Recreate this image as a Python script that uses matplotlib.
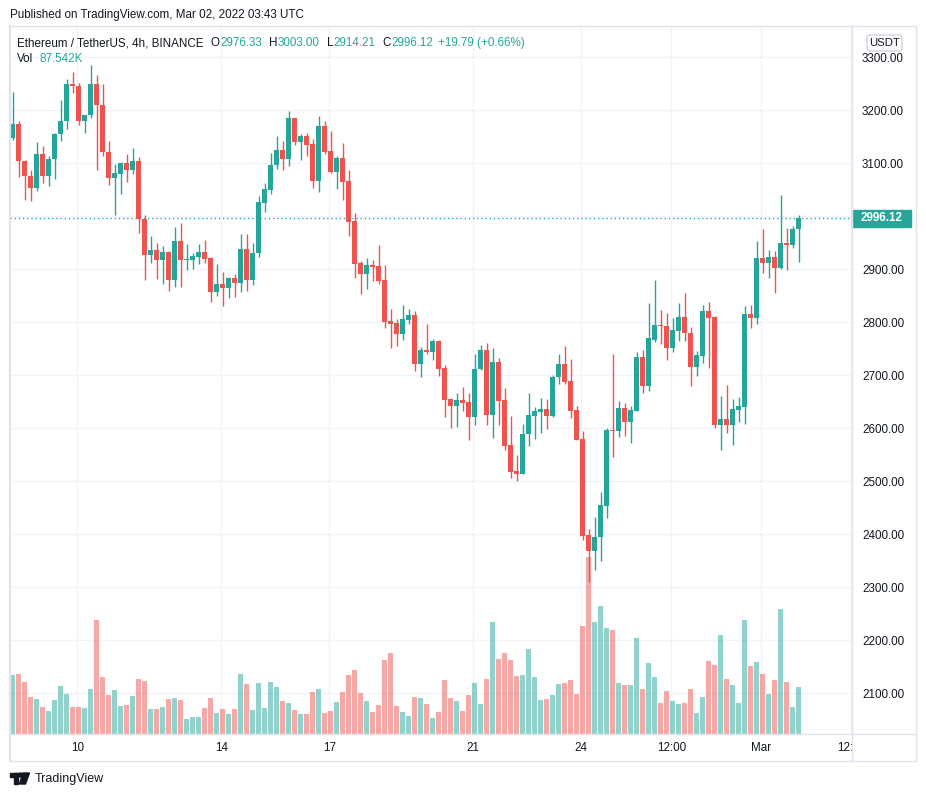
import numpy as np
import matplotlib.pyplot as plt
from matplotlib.patches import Rectangle, Circle, Polygon, FancyBboxPatch
from matplotlib.lines import Line2D
from matplotlib.transforms import Affine2D, blended_transform_factory

plt.rcParams['font.family'] = ['Liberation Sans', 'DejaVu Sans']

W, H = 926, 797
UP = '#26a69a'
DOWN = '#ef5350'
GRID = '#f0f3fa'
BORDER = '#e0e3eb'
TEXT = '#131722'

# 4h candles, ETH/USDT, Feb 08 04:00 -> Mar 02 00:00
opens = [3147, 3175, 3104, 3077, 3053, 3118, 3077, 3108, 3155, 3180,
         3250, 3245, 3180, 3191, 3250, 3210, 3122, 3073, 3080, 3101,
         3087, 3104, 2995, 2927, 2936, 2918, 2933, 2880, 2953, 2918,
         2918, 2924, 2933, 2921, 2857, 2872, 2865, 2884, 2875, 2938,
         2880, 2930, 3026, 3050, 3097, 3125, 3108, 3185, 3141, 3152,
         3136, 3067, 3170, 3123, 3084, 3110, 3067, 2991, 2911, 2891,
         2908, 2906, 2880, 2802, 2798, 2778, 2805, 2814, 2722, 2748,
         2744, 2765, 2713, 2655, 2643, 2653, 2649, 2622, 2711, 2748,
         2626, 2725, 2653, 2568, 2519, 2514, 2589, 2624, 2631, 2636,
         2624, 2696, 2721, 2689, 2634, 2580, 2399, 2369, 2394, 2453,
         2597, 2595, 2639, 2612, 2633, 2735, 2679, 2767, 2795, 2793,
         2752, 2784, 2810, 2779, 2716, 2737, 2821, 2810, 2606, 2618,
         2606, 2635, 2640, 2816, 2808, 2921, 2912, 2923, 2902, 2950,
         2946, 2976.33]
highs = [3235, 3180, 3107, 3087, 3140, 3133, 3114, 3158, 3219, 3259,
         3273, 3251, 3191, 3285, 3267, 3250, 3142, 3099, 3103, 3118,
         3128, 3112, 3002, 2962, 2949, 2944, 2934, 2980, 2987, 2948,
         2930, 2948, 2955, 2923, 2910, 2895, 2885, 2891, 2967, 2967,
         2949, 3039, 3062, 3120, 3152, 3142, 3199, 3186, 3155, 3157,
         3146, 3189, 3180, 3161, 3114, 3139, 3087, 3006, 2916, 2921,
         2918, 2946, 2908, 2826, 2807, 2833, 2826, 2821, 2753, 2797,
         2768, 2766, 2719, 2657, 2667, 2677, 2667, 2740, 2757, 2761,
         2752, 2733, 2676, 2624, 2550, 2609, 2667, 2641, 2657, 2656,
         2701, 2740, 2755, 2731, 2642, 2595, 2410, 2432, 2479, 2601,
         2740, 2652, 2648, 2643, 2744, 2748, 2837, 2880, 2823, 2817,
         2809, 2836, 2855, 2791, 2746, 2833, 2838, 2812, 2661, 2682,
         2655, 2659, 2831, 2833, 2953, 2976, 2936, 2935, 3040, 2978,
         2982, 3003.00]
lows = [3144, 3075, 3031, 3028, 3048, 3062, 3058, 3070, 3143, 3165,
        3233, 3172, 3158, 3186, 3087, 3114, 3059, 3002, 3043, 3065,
        3080, 2969, 2880, 2912, 2882, 2872, 2860, 2867, 2867, 2899,
        2901, 2910, 2911, 2838, 2850, 2831, 2846, 2848, 2857, 2860,
        2870, 2924, 3008, 3042, 3090, 3087, 3094, 3135, 3106, 3114,
        3053, 3046, 3118, 3082, 3051, 3031, 2963, 2884, 2853, 2863,
        2878, 2872, 2789, 2752, 2755, 2767, 2796, 2709, 2696, 2740,
        2729, 2699, 2621, 2601, 2603, 2633, 2577, 2606, 2710, 2607,
        2582, 2607, 2560, 2507, 2501, 2514, 2567, 2580, 2592, 2599,
        2622, 2684, 2684, 2620, 2577, 2389, 2310, 2333, 2350, 2431,
        2546, 2584, 2585, 2573, 2633, 2667, 2671, 2763, 2759, 2729,
        2744, 2765, 2765, 2680, 2699, 2724, 2714, 2601, 2560, 2592,
        2569, 2612, 2608, 2789, 2797, 2893, 2884, 2855, 2901, 2899,
        2940, 2914.21]
closes = [3175, 3104, 3077, 3053, 3118, 3077, 3108, 3155, 3180, 3250,
          3245, 3180, 3191, 3250, 3210, 3122, 3073, 3082, 3101, 3087,
          3104, 2995, 2927, 2936, 2918, 2933, 2880, 2953, 2918, 2919,
          2926, 2933, 2920, 2857, 2872, 2865, 2884, 2875, 2938, 2880,
          2930, 3027, 3051, 3097, 3125, 3108, 3185, 3141, 3152, 3135,
          3067, 3170, 3121, 3084, 3110, 3065, 2990, 2910, 2891, 2908,
          2904, 2878, 2801, 2797, 2778, 2806, 2814, 2722, 2748, 2744,
          2765, 2712, 2654, 2643, 2653, 2648, 2622, 2712, 2748, 2626,
          2725, 2652, 2567, 2518, 2514, 2589, 2625, 2633, 2636, 2624,
          2697, 2721, 2688, 2633, 2578, 2397, 2369, 2395, 2455, 2597,
          2595, 2639, 2612, 2634, 2735, 2679, 2770, 2795, 2793, 2752,
          2786, 2810, 2779, 2716, 2738, 2821, 2809, 2606, 2618, 2606,
          2636, 2642, 2816, 2808, 2921, 2912, 2923, 2902, 2950, 2946,
          2976.33, 2996.12]
# volume in thousands of ETH
volumes = [109.9, 111.8, 96.9, 68.9, 65.2, 50.3, 42.8, 63.3, 89.4, 74.5,
           50.3, 50.3, 48.4, 83.8, 212.3, 106.2, 72.6, 82.0, 52.2, 54.0,
           70.8, 102.4, 98.7, 46.6, 46.6, 50.3, 65.2, 67.1, 63.3, 27.9,
           31.7, 31.7, 48.4, 67.1, 39.1, 46.6, 37.3, 46.6, 111.8, 93.1,
           44.7, 95.0, 48.4, 96.9, 87.5, 61.5, 57.7, 44.7, 37.3, 37.3,
           78.2, 83.8, 39.1, 42.8, 59.6, 78.2, 109.9, 119.2, 76.4, 61.5,
           41.0, 54.0, 137.8, 150.9, 52.2, 41.0, 33.5, 68.9, 67.1, 55.9,
           29.8, 41.0, 100.6, 67.1, 61.5, 42.8, 72.6, 95.0, 55.9, 102.4,
           208.6, 139.7, 150.9, 137.8, 108.0, 109.9, 158.3, 106.2, 63.3, 65.2,
           72.6, 93.1, 95.0, 100.6, 74.5, 201.2, 329.7, 208.6, 238.4, 197.4,
           193.7, 95.0, 91.3, 91.3, 178.8, 83.8, 132.3, 106.2, 57.7, 80.1,
           61.5, 55.9, 57.7, 83.8, 39.1, 68.9, 136.0, 128.5, 184.4, 102.4,
           91.3, 57.7, 212.3, 126.7, 134.1, 111.8, 74.5, 100.6, 232.8, 96.9,
           50.3, 87.542]

time_ticks = [10.75, 34.75, 52.75, 76.75, 94.75, 109.75, 124.75, 139.75]
time_labels = ['10', '14', '17', '21', '24', '12:00', 'Mar', '12:00']
price_ticks = list(range(2100, 3301, 100))

o = np.array(opens)
h = np.array(highs)
l = np.array(lows)
c = np.array(closes)
v = np.array(volumes)
x = np.arange(len(o))
up = c >= o
cols = np.where(up, UP, DOWN)

fig = plt.figure(figsize=(W / 100, H / 100), dpi=100)
pix = Affine2D().scale(1 / W, -1 / H).translate(0, 1) + fig.transFigure

ax = fig.add_axes([10 / W, 1 - 734 / H, (851.7 - 10) / W, (734 - 26) / H])
axv = ax.twinx()
ax.yaxis.tick_right()

# candles
ax.vlines(x, l, h, colors=cols, lw=1, zorder=3)
body = np.maximum(np.abs(c - o), 1.5)
ax.bar(x, body, bottom=np.minimum(o, c), width=0.8, color=cols, zorder=4)

# volume overlay
axv.bar(x, v, width=0.8, color=cols, alpha=0.5, lw=0)
axv.set_ylim(0, 1319)
axv.set_yticks([])
for s in axv.spines.values():
    s.set_visible(False)
axv.patch.set_visible(False)

ax.set_xlim(-0.47, 139.8)
ax.set_ylim(2023.2, 3359.1)
ax.set_xticks(time_ticks)
ax.set_xticklabels(time_labels)
ax.set_yticks(price_ticks)
ax.set_yticklabels(['' if p == 3000 else f'{p:.2f}' for p in price_ticks])
ax.tick_params(axis='both', length=0, labelsize=8.4, colors=TEXT)
ax.tick_params(axis='x', pad=6)
ax.tick_params(axis='y', pad=7.4)
ax.grid(color=GRID, lw=1)
ax.set_axisbelow(True)
for s in ax.spines.values():
    s.set_visible(False)

# clip the last time label at the price scale
lab = ax.xaxis.get_major_ticks()[-1].label1
lab.set_clip_on(True)
lab.set_clip_path(Rectangle((10, 734), 841.7, 30, transform=pix))

# last price line and label
ax.axhline(c[-1], color=UP, lw=1, ls=(0, (1, 2)), zorder=2)
ax.add_patch(Rectangle((852, c[-1] - 15.7), 59, 31.4, transform=blended_transform_factory(
    Affine2D().scale(1 / W, 1) + fig.transFigure, ax.transData), color=UP, clip_on=False, zorder=5))
ax.text(881.5 / W, c[-1], f'{c[-1]:.2f}', transform=blended_transform_factory(fig.transFigure, ax.transData),
        ha='center', va='center', color='white', fontsize=8.4, fontweight='bold', zorder=6)

# pane borders
for xs, ys, lw in [([10, 916], [26, 26], 1), ([10, 916], [761, 761], 1),
                   ([10, 10], [26, 761], 1.6), ([916, 916], [26, 761], 1),
                   ([851.7, 851.7], [26, 761], 1), ([10, 916], [734, 734], 1)]:
    fig.add_artist(Line2D(xs, ys, color=BORDER, lw=lw, transform=pix))

# header texts, laid out one after another
fig.text(10, 15, 'Published on TradingView.com, Mar 02, 2022 03:43 UTC', transform=pix,
         fontsize=8.4, color=TEXT, va='center')
renderer = fig.canvas.get_renderer()
parts = [('Ethereum / TetherUS, 4h, BINANCE', TEXT, 7),
         ('O', TEXT, 0.5), (f'{o[-1]:.2f}', UP, 7),
         ('H', TEXT, 0.5), (f'{h[-1]:.2f}', UP, 7),
         ('L', TEXT, 0.5), (f'{l[-1]:.2f}', UP, 7),
         ('C', TEXT, 0.5), (f'{c[-1]:.2f}', UP, 5),
         (f'+{c[-1] - o[-1]:.2f} (+{(c[-1] - o[-1]) / o[-1] * 100:.2f}%)', UP, 0)]
xpos = 17
for s, col, gap in parts:
    t = fig.text(xpos, 43, s, transform=pix, fontsize=8.4, color=col, va='center')
    xpos += t.get_window_extent(renderer=renderer).width + gap
fig.text(17, 59, 'Vol', transform=pix, fontsize=8.4, color=TEXT, va='center')
fig.text(39.3, 59, f'{v[-1]:.3f}K', transform=pix, fontsize=8.4, color=UP, va='center')

# currency badge
fig.add_artist(FancyBboxPatch((867, 35), 35, 16, boxstyle='round,pad=0,rounding_size=3',
                              fc='white', ec='#d1d4dc', lw=1, transform=pix))
fig.text(884.5, 43, 'USDT', transform=pix, fontsize=8.2, color=TEXT, ha='center', va='center')

# TradingView logo
fig.add_artist(Rectangle((10, 773), 8, 4, color=TEXT, transform=pix))
fig.add_artist(Rectangle((14, 773), 4, 11, color=TEXT, transform=pix))
fig.add_artist(Circle((20.5, 775), 2, color=TEXT, transform=pix))
fig.add_artist(Polygon([(23, 773), (29.5, 773), (25.5, 784), (19.5, 784)], color=TEXT, transform=pix))
fig.text(35, 779, 'TradingView', transform=pix, fontsize=9, color=TEXT, va='center')

fig.savefig('out.png', dpi=100)
